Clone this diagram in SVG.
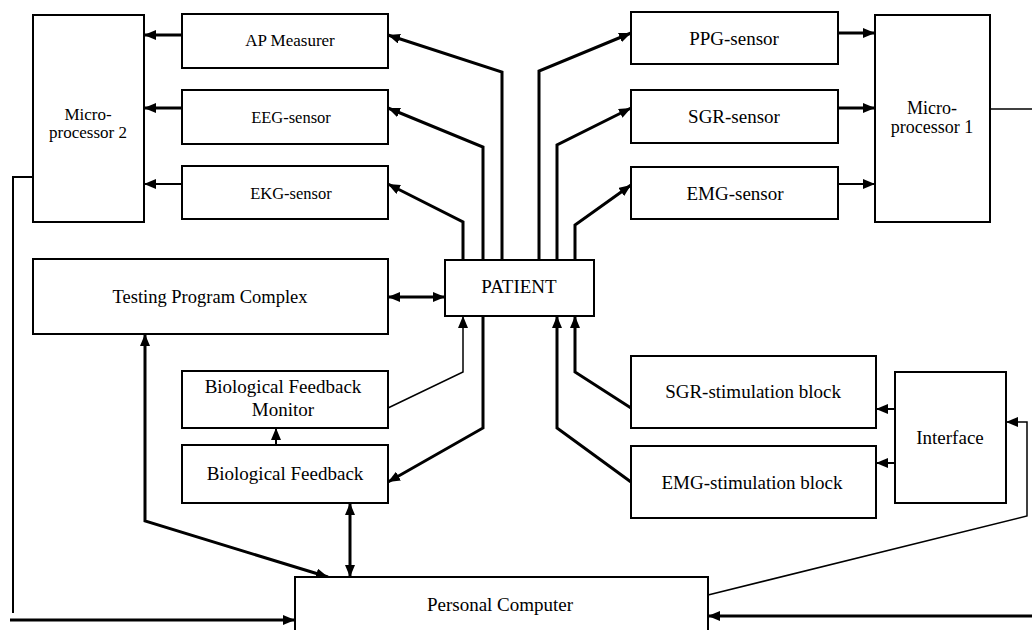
<svg xmlns="http://www.w3.org/2000/svg" width="1032" height="630" viewBox="0 0 1032 630">
<defs>
<marker id="ah" viewBox="0 0 12 10" refX="12" refY="5" markerWidth="12" markerHeight="10" markerUnits="userSpaceOnUse" orient="auto-start-reverse">
<path d="M0,0 L12,5 L0,10 z" fill="#000"/>
</marker>
</defs>
<style>
.box{fill:#fff;stroke:#000;stroke-width:2}
.t{font-family:"Liberation Serif","Times New Roman",serif;fill:#000;text-anchor:middle;font-size:19px}
.s{font-size:17px}
.thick{fill:none;stroke:#000;stroke-width:3}
.med{fill:none;stroke:#000;stroke-width:2}
.thin{fill:none;stroke:#000;stroke-width:1.5}
.end{marker-end:url(#ah)}
.both{marker-start:url(#ah);marker-end:url(#ah)}
</style>
<rect width="1032" height="630" fill="#fff"/>

<g id="connectors">
<line class="thick end" x1="182" y1="35" x2="144" y2="35"/>
<line class="thick end" x1="182" y1="108" x2="144" y2="108"/>
<line class="med end" x1="182" y1="184" x2="144" y2="184"/>
<polyline class="thick end" points="502,260 502,72 388,35"/>
<polyline class="thick end" points="483,260 483,147 388,108"/>
<polyline class="thick end" points="463,260 463,222 388,184"/>
<polyline class="thick end" points="539,260 539,71 631,33"/>
<polyline class="thick end" points="557,260 557,145 631,108"/>
<polyline class="thick end" points="575,260 575,225 631,185"/>
<line class="thick end" x1="838" y1="33" x2="875" y2="33"/>
<line class="thick end" x1="838" y1="108" x2="875" y2="108"/>
<line class="med end" x1="838" y1="184" x2="875" y2="184"/>
<line class="thin" x1="990" y1="109" x2="1032" y2="109"/>
<polyline class="med" points="33,177 13,177 13,613"/>
<line class="thick end" x1="10" y1="620" x2="295" y2="620"/>
<line class="thick both" x1="388" y1="297" x2="445" y2="297"/>
<polyline class="thin end" points="388,408 463,372 463,316"/>
<polyline class="thick end" points="483,316 483,428 388,482"/>
<line class="med end" x1="276" y1="445" x2="276" y2="428"/>
<polyline class="thick both" points="145,334 145,521 328,577"/>
<line class="thick both" x1="350" y1="503" x2="350" y2="577"/>
<polyline class="thick end" points="631,408 575,372 575,316"/>
<polyline class="thick end" points="631,482 557,428 557,316"/>
<line class="med end" x1="895" y1="409" x2="876" y2="409"/>
<line class="med end" x1="895" y1="463" x2="876" y2="463"/>
<polyline class="thin end" points="708,595 1027,516 1027,422 1006,422"/>
<line class="thick end" x1="1032" y1="616" x2="708" y2="616"/>
</g>

<g id="mp2"><rect class="box" x="33" y="15" width="111" height="207"/><text class="t s" x="88" y="120">Micro-</text><text class="t s" x="88" y="138">processor 2</text></g>
<g id="ap"><rect class="box" x="182" y="14" width="206" height="54"/><text class="t s" x="290" y="46">AP Measurer</text></g>
<g id="eeg"><rect class="box" x="182" y="90" width="206" height="54"/><text class="t s" x="291" y="123" style="font-size:16.5px">EEG-sensor</text></g>
<g id="ekg"><rect class="box" x="182" y="166" width="206" height="53"/><text class="t s" x="291" y="199" style="font-size:16.5px">EKG-sensor</text></g>
<g id="ppg"><rect class="box" x="631" y="12" width="207" height="52"/><text class="t" x="734" y="45">PPG-sensor</text></g>
<g id="sgrs"><rect class="box" x="631" y="90" width="207" height="53"/><text class="t" x="734" y="123">SGR-sensor</text></g>
<g id="emgs"><rect class="box" x="631" y="167" width="207" height="52"/><text class="t" x="735" y="200">EMG-sensor</text></g>
<g id="mp1"><rect class="box" x="875" y="15" width="115" height="207"/><text class="t" x="932" y="114" style="font-size:18px">Micro-</text><text class="t" x="932" y="133" style="font-size:18px">processor 1</text></g>
<g id="tpc"><rect class="box" x="33" y="259" width="355" height="75"/><text class="t" x="210" y="303" style="font-size:18.5px">Testing Program Complex</text></g>
<g id="patient"><rect class="box" x="445" y="260" width="149" height="56"/><text class="t" x="519" y="293">PATIENT</text></g>
<g id="bfm"><rect class="box" x="182" y="371" width="206" height="57"/><text class="t" x="283" y="393">Biological Feedback</text><text class="t" x="283" y="416">Monitor</text></g>
<g id="bf"><rect class="box" x="182" y="445" width="206" height="58"/><text class="t" x="285" y="480">Biological Feedback</text></g>
<g id="sgrstim"><rect class="box" x="631" y="356" width="245" height="72"/><text class="t" x="753" y="398">SGR-stimulation block</text></g>
<g id="emgstim"><rect class="box" x="631" y="446" width="245" height="72"/><text class="t" x="752" y="489">EMG-stimulation block</text></g>
<g id="interface"><rect class="box" x="895" y="372" width="111" height="131"/><text class="t" x="950" y="444">Interface</text></g>
<g id="pc"><rect class="box" x="295" y="577" width="413" height="70"/><text class="t" x="500" y="611">Personal Computer</text></g>
</svg>
